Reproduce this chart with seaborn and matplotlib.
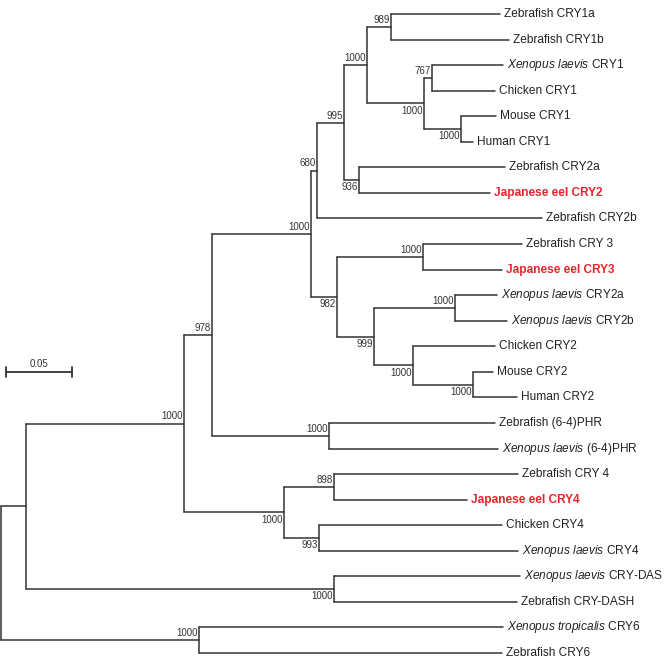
import matplotlib.pyplot as plt
import numpy as np
import pandas as pd
import seaborn as sns

# internal nodes of the tree (parent always listed before its children)
nodes = ['root', 'A', 'B', 'C', 'E', 'F', 'H', 'I', 'n1ab', 'J', 'nXC', 'nMH1', 'P',
         'G', 'Q', 'K', 'nX2', 'L', 'nMH2', 'n64', 'D', 'n4a', 'n4b', 'nDAS', 'n6']
node_parent = [None, 'root', 'A', 'B', 'C', 'E', 'F', 'H', 'I', 'I', 'J', 'J', 'H',
               'E', 'G', 'G', 'K', 'K', 'L', 'C', 'B', 'D', 'D', 'A', 'root']
node_length = [0.0, 0.0189, 0.1197, 0.0212, 0.0750, 0.0045, 0.0205, 0.0174, 0.0182,
               0.0432, 0.0061, 0.0280, 0.0114, 0.0197, 0.0652, 0.0280, 0.0614, 0.0295,
               0.0455, 0.0886, 0.0758, 0.0379, 0.0265, 0.2333, 0.1500]
node_support = [None, None, 1000, 978, 1000, 680, 995, 1000, 989, 1000, 767, 1000, 936,
                982, 1000, 999, 1000, 1000, 1000, 1000, 1000, 898, 993, 1000, 1000]

# leaves, top to bottom
leaf_labels = ['Zebrafish CRY1a', 'Zebrafish CRY1b', 'Xenopus laevis CRY1', 'Chicken CRY1',
               'Mouse CRY1', 'Human CRY1', 'Zebrafish CRY2a', 'Japanese eel CRY2',
               'Zebrafish CRY2b', 'Zebrafish CRY 3', 'Japanese eel CRY3',
               'Xenopus laevis CRY2a', 'Xenopus laevis CRY2b', 'Chicken CRY2', 'Mouse CRY2',
               'Human CRY2', 'Zebrafish (6-4)PHR', 'Xenopus laevis (6-4)PHR',
               'Zebrafish CRY 4', 'Japanese eel CRY4', 'Chicken CRY4', 'Xenopus laevis CRY4',
               'Xenopus laevis CRY-DAS', 'Zebrafish CRY-DASH', 'Xenopus tropicalis CRY6',
               'Zebrafish CRY6']
leaf_parent = ['n1ab', 'n1ab', 'nXC', 'nXC', 'nMH1', 'nMH1', 'P', 'P', 'F', 'Q', 'Q',
               'nX2', 'nX2', 'L', 'nMH2', 'nMH2', 'n64', 'n64', 'n4a', 'n4a', 'n4b', 'n4b',
               'nDAS', 'nDAS', 'n6', 'n6']
leaf_length = [0.0826, 0.0894, 0.0538, 0.0477, 0.0265, 0.0091, 0.1106, 0.0992, 0.1705,
               0.0750, 0.0598, 0.0318, 0.0394, 0.0621, 0.0152, 0.0333, 0.1258, 0.1280,
               0.1394, 0.1008, 0.1386, 0.1508, 0.1409, 0.1386, 0.2303, 0.2295]

scale_length = 0.05

# where each bootstrap value sits relative to its branch (a = above, b = below)
support_side = dict(B='a', C='a', E='a', F='a', H='a', I='a', n1ab='a', J='b', nXC='a',
                    nMH1='b', P='b', G='b', Q='a', K='b', nX2='a', L='b', nMH2='b',
                    n64='a', D='b', n4a='a', n4b='b', nDAS='b', n6='a')

# ---- layout -------------------------------------------------------------
px = 1 / 1320.0          # tree units per pixel
row_px = 25.56           # pixels between leaves
top_px = 14
line_col = '#333333'

# x positions
x = {}
for n, p, l in zip(nodes, node_parent, node_length):
    x[n] = 0.0 if p is None else x[p] + l

# y positions: leaves by order, internal nodes at midpoint of children
y = {}
children = {n: [] for n in nodes}
for i, (lab, p) in enumerate(zip(leaf_labels, leaf_parent)):
    y[lab] = i
    children[p].append(lab)
for n, p in zip(nodes, node_parent):
    if p is not None:
        children[p].append(n)
for n in reversed(nodes):
    ys = [y[c] for c in children[n]]
    y[n] = (min(ys) + max(ys)) / 2

# segments for seaborn
rows = []
seg = 0
for n, p in list(zip(nodes, node_parent)) + list(zip(leaf_labels, leaf_parent)):
    if p is None:
        continue
    xe = x[n] if n in x else x[p] + leaf_length[leaf_labels.index(n)]
    rows += [(seg, x[p], y[n]), (seg, xe, y[n])]
    seg += 1
for n in nodes:
    ys = [y[c] for c in children[n]]
    rows += [(seg, x[n], min(ys)), (seg, x[n], max(ys))]
    seg += 1
df = pd.DataFrame(rows, columns=['seg', 'x', 'y'])

sns.set_theme(style='white')
plt.rcParams['font.family'] = ['Liberation Sans', 'DejaVu Sans']
plt.rcParams['mathtext.fontset'] = 'custom'
plt.rcParams['mathtext.it'] = 'Liberation Sans:italic'
plt.rcParams['mathtext.rm'] = 'Liberation Sans'

fig = plt.figure(figsize=(6.69, 6.69), dpi=100)
ax = fig.add_axes([0, 0, 1, 1])
sns.lineplot(data=df, x='x', y='y', units='seg', estimator=None, sort=False,
             color=line_col, lw=1.1, ax=ax, legend=False)

ax.set_xlim(-1 * px, 668 * px)
ax.set_ylim((669 - top_px) / row_px, -top_px / row_px)
ax.axis('off')

# leaf labels
for lab, p, l in zip(leaf_labels, leaf_parent, leaf_length):
    txt = lab
    if lab.startswith('Xenopus'):
        w = lab.split(' ')
        txt = r'$\mathit{' + w[0] + r'\ ' + w[1] + '}$ ' + ' '.join(w[2:])
    red = 'Japanese eel' in lab
    ax.annotate(txt, (x[p] + l, y[lab]), xytext=(2.8, 0), textcoords='offset points',
                ha='left', va='center', fontsize=8.6,
                color='#e3262c' if red else '#222222',
                fontweight='bold' if red else 'normal')

# bootstrap values
for n, s in zip(nodes, node_support):
    if s is None:
        continue
    above = support_side[n] == 'a'
    ax.annotate(str(s), (x[n], y[n]), xytext=(-1, 1.5 if above else -1.5),
                textcoords='offset points', ha='right',
                va='bottom' if above else 'top', fontsize=7, color='#333333')

# scale bar
sb_x0 = 5 * px
sb_y = (372 - top_px) / row_px
ax.plot([sb_x0, sb_x0 + scale_length], [sb_y, sb_y], color=line_col, lw=1.3)
for xx in (sb_x0, sb_x0 + scale_length):
    ax.plot([xx, xx], [sb_y - 0.18, sb_y + 0.18], color=line_col, lw=1.3)
ax.annotate('0.05', (sb_x0 + scale_length / 2, sb_y), xytext=(0, 2),
            textcoords='offset points', ha='center', va='bottom', fontsize=7,
            color='#333333')

fig.savefig('out.png', dpi=100)
